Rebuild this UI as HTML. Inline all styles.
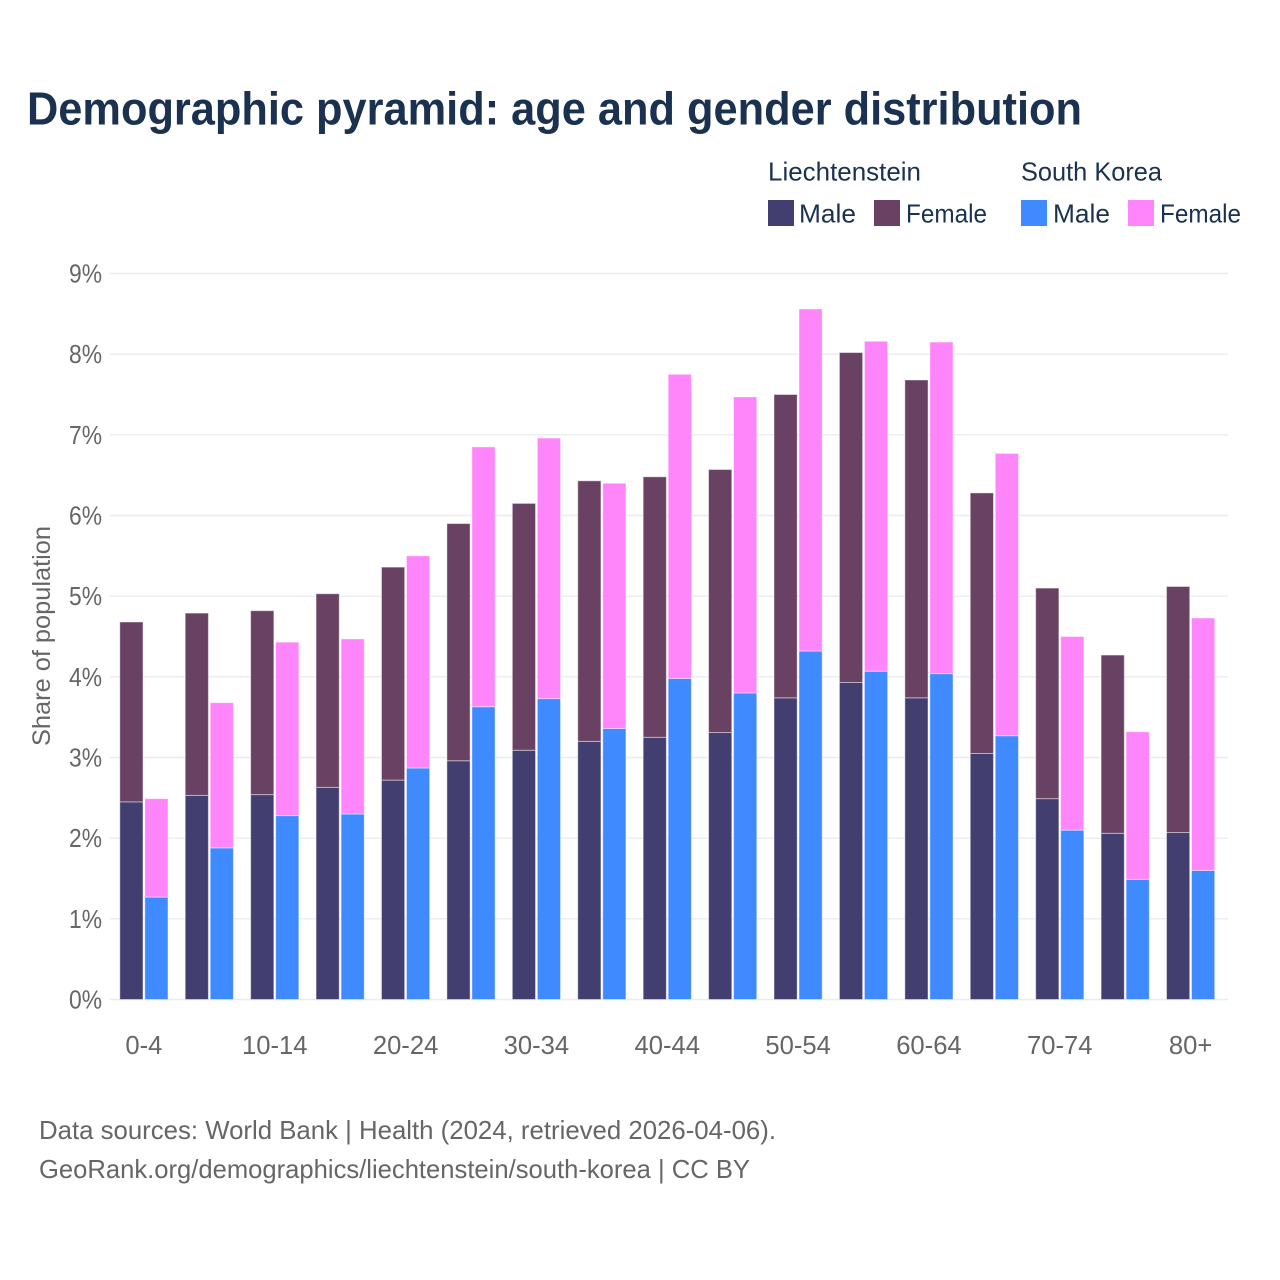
<!DOCTYPE html>
<html lang="en">
<head>
<meta charset="utf-8">
<title>Demographic pyramid: age and gender distribution</title>
<style>
html,body{margin:0;padding:0;background:#fff}
svg{display:block}
text{font-family:"Liberation Sans",sans-serif}
</style>
</head>
<body>
<svg id="chart" xmlns="http://www.w3.org/2000/svg" width="1280" height="1280" viewBox="0 0 1280 1280">
<rect width="1280" height="1280" fill="#ffffff"/>
<text x="27" y="124.5" font-size="46" font-weight="700" fill="#1a3150" textLength="1055" lengthAdjust="spacingAndGlyphs">Demographic pyramid: age and gender distribution</text>
<g font-size="25.6" fill="#1a3150">
<text x="768" y="180.5" textLength="153" lengthAdjust="spacingAndGlyphs">Liechtenstein</text>
<text x="1021" y="180.5" textLength="141" lengthAdjust="spacingAndGlyphs">South Korea</text>
<rect x="768" y="200" width="26" height="26" fill="#433e70"/>
<text x="799" y="222.5" textLength="57" lengthAdjust="spacingAndGlyphs">Male</text>
<rect x="874" y="200" width="26" height="26" fill="#694162"/>
<text x="906" y="222.5" textLength="81" lengthAdjust="spacingAndGlyphs">Female</text>
<rect x="1021" y="200" width="26" height="26" fill="#408aff"/>
<text x="1053" y="222.5" textLength="57" lengthAdjust="spacingAndGlyphs">Male</text>
<rect x="1128" y="200" width="26" height="26" fill="#ff85fa"/>
<text x="1160" y="222.5" textLength="81" lengthAdjust="spacingAndGlyphs">Female</text>
</g>
<g id="grid"></g>
<g id="bars"></g>
<g id="yticks"></g>
<g id="xticks"></g>
<text transform="translate(50,636) rotate(-90)" text-anchor="middle" font-size="25" fill="#666666" textLength="220" lengthAdjust="spacingAndGlyphs">Share of population</text>
<text x="39" y="1139" font-size="25.6" fill="#666666" textLength="737" lengthAdjust="spacingAndGlyphs">Data sources: World Bank | Health (2024, retrieved 2026-04-06).</text>
<text x="39" y="1178" font-size="25.6" fill="#666666" textLength="711" lengthAdjust="spacingAndGlyphs">GeoRank.org/demographics/liechtenstein/south-korea | CC BY</text>
</svg>
<script>
const ageGroups = ["0-4","5-9","10-14","15-19","20-24","25-29","30-34","35-39","40-44","45-49","50-54","55-59","60-64","65-69","70-74","75-79","80+"];
const liechtensteinMale = [2.45,2.53,2.54,2.63,2.72,2.96,3.09,3.20,3.25,3.31,3.74,3.93,3.74,3.05,2.49,2.06,2.07];
const liechtensteinFemale = [2.23,2.26,2.28,2.40,2.64,2.94,3.06,3.23,3.23,3.26,3.76,4.09,3.94,3.23,2.61,2.21,3.05];
const southKoreaMale = [1.27,1.88,2.28,2.30,2.87,3.63,3.73,3.36,3.98,3.80,4.32,4.07,4.04,3.27,2.10,1.49,1.60];
const southKoreaFemale = [1.22,1.80,2.15,2.17,2.63,3.22,3.23,3.04,3.77,3.67,4.24,4.09,4.11,3.50,2.40,1.83,3.13];
const yTickValues = [0,1,2,3,4,5,6,7,8,9];
const yTickLabels = ["0%","1%","2%","3%","4%","5%","6%","7%","8%","9%"];

const NS = "http://www.w3.org/2000/svg";
const plotLeft = 110, plotRight = 1228, baseY = 999.5, topY = 273.5, yMax = 9;
const firstCenter = 143.9, groupStep = 65.42, barWidth = 23.2, barOffset = 12.5;
function yScale(v) { return baseY - (v / yMax) * (baseY - topY); }
function xScale(i) { return firstCenter + i * groupStep; }
function make(tag, attrs, parent) {
  const el = document.createElementNS(NS, tag);
  for (const k in attrs) el.setAttribute(k, attrs[k]);
  parent.appendChild(el);
  return el;
}
const grid = document.getElementById("grid");
const yticks = document.getElementById("yticks");
const xticks = document.getElementById("xticks");
const bars = document.getElementById("bars");

yTickValues.forEach(function (v, i) {
  const line = make("line", {x1: plotLeft, x2: plotRight, y1: yScale(v), y2: yScale(v), stroke: "#ececec", "stroke-width": 1.4}, grid);
  
  
  const t = make("text", {x: 102, y: yScale(v) + 9, "text-anchor": "end", "font-size": 25.6, fill: "#666666", textLength: 33, lengthAdjust: "spacingAndGlyphs"}, yticks);
  t.textContent = yTickLabels[i];
  
  
});

ageGroups.forEach(function (label, i) {
  if (i % 2 === 0) {
    const t = make("text", {x: xScale(i), y: 1054, "text-anchor": "middle", "font-size": 25.6, fill: "#666666"}, xticks);
    t.textContent = label;
    
    
  }
});

function drawSegment(x, lower, value, fill) {
  const yTop = yScale(lower + value);
  const yBottom = yScale(lower);
  const r = make("rect", {x: x, y: yTop, width: barWidth, height: yBottom - yTop, fill: fill, stroke: "#ffffff", "stroke-opacity": 0.45, "stroke-width": 1}, bars);
  
  
}
ageGroups.forEach(function (label, i) {
  const leftX = xScale(i) - barOffset - barWidth / 2;
  const rightX = xScale(i) + barOffset - barWidth / 2;
  drawSegment(leftX, 0, liechtensteinMale[i], "#433e70");
  drawSegment(leftX, liechtensteinMale[i], liechtensteinFemale[i], "#694162");
  drawSegment(rightX, 0, southKoreaMale[i], "#408aff");
  drawSegment(rightX, southKoreaMale[i], southKoreaFemale[i], "#ff85fa");
});
</script>
</body>
</html>
